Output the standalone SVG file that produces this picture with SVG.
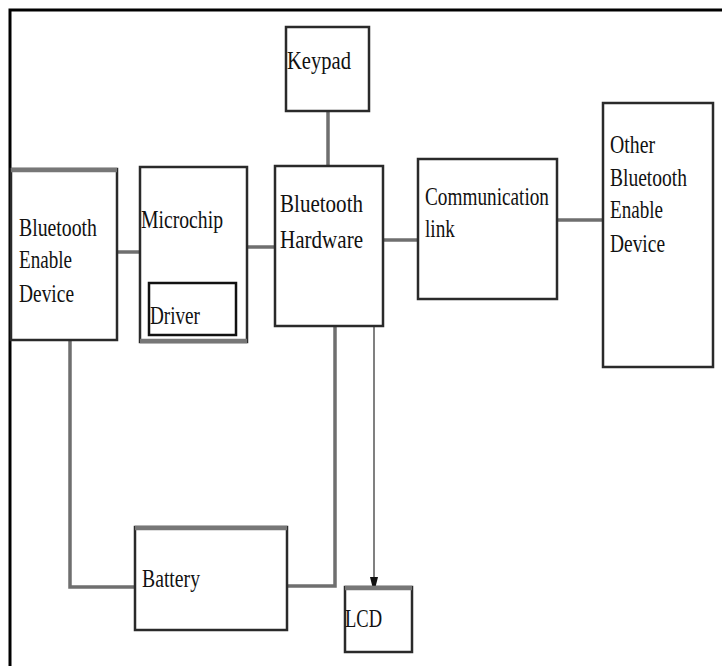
<svg xmlns="http://www.w3.org/2000/svg" width="722" height="666" viewBox="0 0 722 666">
<style>
.box{fill:#fff;stroke:#2a2a2a;stroke-width:2.5}
.topbar{stroke:#777;stroke-width:4.5}
.conn{fill:none;stroke:#6f6f6f;stroke-width:3.5}
.thin{fill:none;stroke:#808080;stroke-width:2}
.t{font-family:"Liberation Serif","Times New Roman",serif;font-size:26px;fill:#111}
</style>
<defs>
<marker id="arr" markerWidth="8" markerHeight="16" refX="4" refY="15" orient="auto-start-reverse" markerUnits="userSpaceOnUse" viewBox="0 0 8 16">
<path d="M0,0 L8,0 L4,16 Z" fill="#111"/>
</marker>
</defs>
<rect width="722" height="666" fill="#fff"/>
<path d="M10,666 V10 H722" fill="none" stroke="#000" stroke-width="3"/>

<g id="connectors">
<path class="conn" d="M117,252 H140"/>
<path class="conn" d="M247,247 H275"/>
<path class="conn" d="M383,240 H418"/>
<path class="conn" d="M557,220 H603"/>
<path class="conn" d="M328,111 V166"/>
<path class="conn" d="M70,340 V587 H135"/>
<path class="conn" d="M287,586 H335 V326"/>
<path class="thin" d="M374,326 V578"/>
<path d="M370,577 L378,577 L374,593 Z" fill="#111"/>
</g>

<g id="keypad">
<rect class="box" x="286" y="27" width="83" height="84"/>
<text class="t" x="287" y="69" textLength="64" lengthAdjust="spacingAndGlyphs">Keypad</text>
</g>

<g id="bluetooth-enable-device">
<rect class="box" x="11" y="169" width="106" height="171"/>
<line class="topbar" x1="11" y1="170" x2="117" y2="170"/>
<text class="t" x="19" y="236" textLength="78" lengthAdjust="spacingAndGlyphs">Bluetooth</text>
<text class="t" x="19" y="268" textLength="53" lengthAdjust="spacingAndGlyphs">Enable</text>
<text class="t" x="19" y="302" textLength="55" lengthAdjust="spacingAndGlyphs">Device</text>
</g>

<g id="microchip">
<rect class="box" x="140" y="167" width="107" height="175"/>
<line class="topbar" x1="140" y1="341" x2="247" y2="341"/>
<text class="t" x="141" y="228" textLength="82" lengthAdjust="spacingAndGlyphs">Microchip</text>
</g>

<g id="driver">
<rect class="box" x="149" y="283" width="87" height="52" stroke-width="3" style="stroke:#111"/>
<text class="t" x="150" y="324" textLength="50" lengthAdjust="spacingAndGlyphs">Driver</text>
</g>

<g id="bluetooth-hardware">
<rect class="box" x="275" y="166" width="108" height="160"/>
<text class="t" x="280" y="212" font-size="27" textLength="83" lengthAdjust="spacingAndGlyphs">Bluetooth</text>
<text class="t" x="280" y="248" font-size="27" textLength="83" lengthAdjust="spacingAndGlyphs">Hardware</text>
</g>

<g id="communication-link">
<rect class="box" x="418" y="159" width="139" height="140"/>
<text class="t" x="425" y="205" textLength="124" lengthAdjust="spacingAndGlyphs">Communication</text>
<text class="t" x="425" y="237" textLength="30" lengthAdjust="spacingAndGlyphs">link</text>
</g>

<g id="other-bluetooth-enable-device">
<rect class="box" x="603" y="103" width="110" height="264"/>
<text class="t" x="610" y="153" textLength="45" lengthAdjust="spacingAndGlyphs">Other</text>
<text class="t" x="610" y="186" textLength="77" lengthAdjust="spacingAndGlyphs">Bluetooth</text>
<text class="t" x="610" y="218" textLength="53" lengthAdjust="spacingAndGlyphs">Enable</text>
<text class="t" x="610" y="252" textLength="55" lengthAdjust="spacingAndGlyphs">Device</text>
</g>

<g id="battery">
<rect class="box" x="135" y="527" width="152" height="103"/>
<line class="topbar" x1="135" y1="528" x2="287" y2="528"/>
<text class="t" x="142" y="587" textLength="58" lengthAdjust="spacingAndGlyphs">Battery</text>
</g>

<g id="lcd">
<rect class="box" x="345" y="587" width="67" height="65"/>
<line class="topbar" x1="345" y1="588" x2="412" y2="588"/>
<text class="t" x="345" y="627" textLength="37" lengthAdjust="spacingAndGlyphs">LCD</text>
</g>
</svg>
